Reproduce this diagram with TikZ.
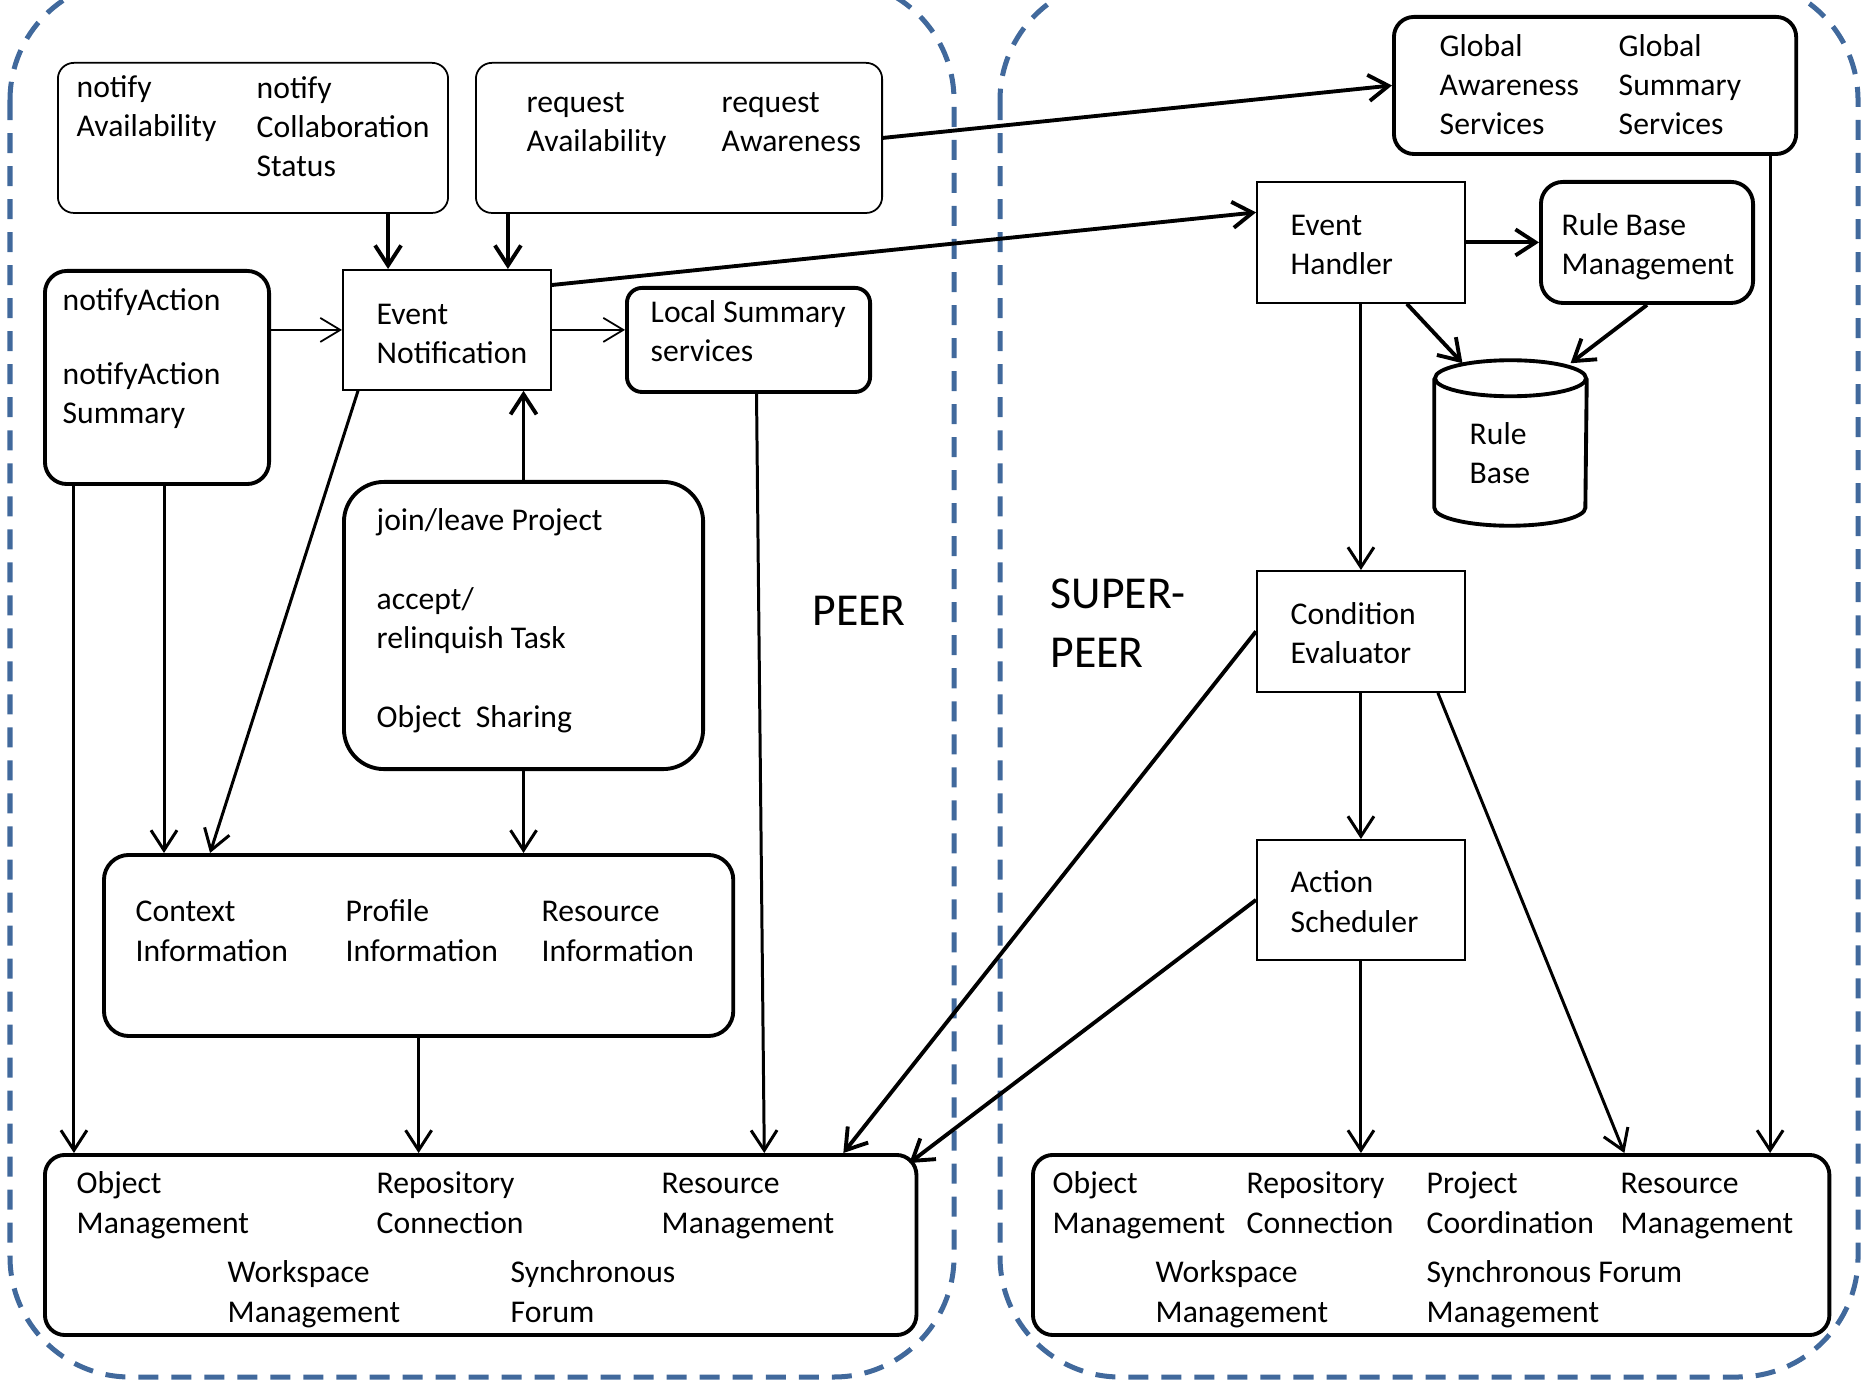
\documentclass[tikz,border=0pt]{standalone}
\usepackage{fontspec}
\setmainfont{Carlito}
\usetikzlibrary{arrows.meta}
\definecolor{borda}{HTML}{41699C}

\begin{document}
\begin{tikzpicture}[
    x=0.01cm, y=-0.01cm,
    zone/.style={draw=borda, line width=0.05cm, dash pattern=on 0.2cm off 0.13cm, rounded corners=1.2cm},
    modbox/.style={draw, line width=1.1pt, rounded corners=0.2cm, anchor=north west, inner sep=0pt},
    sqbox/.style={draw, line width=0.5pt, anchor=north west, inner sep=0pt},
    lbl/.style={anchor=base west, align=left, inner sep=0pt, font=\fontsize{9}{11.2}\selectfont},
    big/.style={lbl, font=\fontsize{13}{16.8}\selectfont},
    link/.style={-{Straight Barb[length=2mm, width=2.6mm]}, line width=1.1pt},
    midlink/.style={-{Straight Barb[length=2mm, width=2.6mm]}, line width=0.85pt},
    thinlink/.style={-{Straight Barb[length=2mm, width=2.4mm]}, line width=0.5pt}
  ]
    \useasboundingbox (0,0) rectangle (1864,1383);
    \draw[zone] (10,-20) rectangle (954,1377);
    \draw[zone] (1000,-20) rectangle (1858,1377);

    \node[modbox, line width=0.5pt, rounded corners=0.16cm, minimum width=3.90cm, minimum height=1.50cm] (na) at (57,62) {};
    \node[modbox, line width=0.5pt, rounded corners=0.16cm, minimum width=4.06cm, minimum height=1.50cm] (ra) at (475,62) {};
    \node[sqbox, minimum width=2.08cm, minimum height=1.20cm] (en) at (342,269) {};
    \node[modbox, rounded corners=0.22cm, minimum width=2.24cm, minimum height=2.13cm] (nac) at (43,269) {};
    \node[modbox, rounded corners=0.15cm, minimum width=2.43cm, minimum height=1.04cm] (ls) at (625,286) {};
    \node[modbox, rounded corners=0.4cm, minimum width=3.59cm, minimum height=2.87cm] (jl) at (342,480) {};
    \node[modbox, rounded corners=0.25cm, minimum width=6.29cm, minimum height=1.81cm] (inf) at (102,853) {};
    \node[modbox, minimum width=8.71cm, minimum height=1.80cm] (pb) at (43,1153) {};
    \node[modbox, minimum width=4.02cm, minimum height=1.37cm] (gl) at (1392,15) {};
    \node[sqbox, minimum width=2.08cm, minimum height=1.21cm] (eh) at (1256,181) {};
    \node[modbox, rounded corners=0.22cm, minimum width=2.12cm, minimum height=1.21cm] (rbm) at (1539,180) {};
    \node[minimum width=1.51cm, minimum height=1.64cm, inner sep=0pt] (rb) at (1510.5,443) {};
    \draw[line width=1.1pt] ([yshift=-0.18cm]rb.north) ellipse [x radius=0.755cm, y radius=0.18cm];
    \draw[line width=1.1pt] ([yshift=-0.18cm]rb.north west) -- ([yshift=0.18cm]rb.south west) arc[start angle=180, end angle=360, x radius=0.755cm, y radius=0.18cm] -- ([yshift=-0.18cm]rb.north east);
    \node[sqbox, minimum width=2.08cm, minimum height=1.21cm] (ce) at (1256,570) {};
    \node[sqbox, minimum width=2.08cm, minimum height=1.20cm] (as) at (1256,839) {};
    \node[modbox, minimum width=7.96cm, minimum height=1.80cm] (sb) at (1031,1153) {};

    \node[lbl] (na1) at (76,137) {notify\\Availability};
    \node[lbl] (na2) at (256,177) {notify\\Collaboration\\Status};
    \node[lbl] (ra1) at (526,152) {request\\Availability};
    \node[lbl] (ra2) at (721,152) {request\\Awareness};
    \node[lbl] (ent) at (376,364) {Event\\Notification};
    \node[lbl] (nact) at (62,424) {notifyAction\\[10pt]notifyAction\\Summary};
    \node[lbl] (lst) at (650,362) {Local Summary\\services};
    \node[lbl] (jlt) at (376,728) {join/leave Project\\[11.3pt]accept/\\relinquish Task\\[11.3pt]Object\ \ Sharing};
    \node[lbl] (inf1) at (135,961) {Context\\Information};
    \node[lbl] (inf2) at (345,961) {Profile\\Information};
    \node[lbl] (inf3) at (541,961) {Resource\\Information};
    \node[lbl] (pb1) at (76,1233) {Object\\Management};
    \node[lbl] (pb2) at (376,1233) {Repository\\Connection};
    \node[lbl] (pb3) at (661,1233) {Resource\\Management};
    \node[lbl] (pb4) at (227,1322) {Workspace\\Management};
    \node[lbl] (pb5) at (510,1322) {Synchronous\\Forum};
    \node[lbl] (gl1) at (1439,135) {Global\\Awareness\\Services};
    \node[lbl] (gl2) at (1618,135) {Global\\Summary\\Services};
    \node[lbl] (eht) at (1290,275) {Event\\Handler};
    \node[lbl] (rbmt) at (1561,275) {Rule Base\\Management};
    \node[lbl] (rbt) at (1469,484) {Rule\\Base};
    \node[lbl] (cet) at (1290,664) {Condition\\Evaluator};
    \node[lbl] (ast) at (1290,932) {Action\\Scheduler};
    \node[lbl] (sb1) at (1052,1233) {Object\\Management};
    \node[lbl] (sb2) at (1246,1233) {Repository\\Connection};
    \node[lbl] (sb3) at (1426,1233) {Project\\Coordination};
    \node[lbl] (sb4) at (1620,1233) {Resource\\Management};
    \node[lbl] (sb5) at (1155,1322) {Workspace\\Management};
    \node[lbl] (sb6) at (1426,1322) {Synchronous Forum\\Management};
    \node[big] (peer) at (812,626) {PEER};
    \node[big] (sp) at (1050,668) {SUPER-\\PEER};

    \draw[link] ([xshift=1.35cm]na.south) -- ([xshift=1.35cm]na.south |- en.north);
    \draw[link] ([xshift=-1.71cm]ra.south) -- ([xshift=-1.71cm]ra.south |- en.north);
    \draw[link] ([yshift=-0.16cm]en.north east) -- ([yshift=0.30cm]eh.west);
    \draw[link] (ra.east) -- (gl.west);
    \draw[thinlink] (nac.east |- en.west) -- (en.west);
    \draw[thinlink] (en.east) -- (en.east -| ls.west);
    \draw[link] (jl.north) -- (jl.north |- en.south);
    \draw[midlink] (jl.south) -- (jl.south |- inf.north);
    \draw[midlink] ([xshift=-0.83cm]nac.south) -- ([xshift=-0.83cm]nac.south |- pb.north);
    \draw[midlink] ([xshift=0.07cm]nac.south) -- ([xshift=0.07cm]nac.south |- inf.north);
    \draw[midlink] ([xshift=0.16cm]en.south west) -- ([xshift=1.08cm]inf.north west);
    \draw[midlink] ([xshift=0.08cm]ls.south) -- ([xshift=-1.54cm]pb.north east);
    \draw[midlink] (inf.south) -- (inf.south |- pb.north);
    \draw[link] (ce.west) -- ([xshift=-0.75cm]pb.north east);
    \draw[link] (as.west) -- ([xshift=-0.09cm, yshift=-0.10cm]pb.north east);
    \draw[midlink] (eh.south) -- (ce.north);
    \draw[link] (eh.east) -- (eh.east -| rbm.west);
    \draw[link] ([xshift=-0.59cm]eh.south east) -- ([xshift=-0.48cm, yshift=-0.03cm]rb.north);
    \draw[link] (rbm.south) -- ([xshift=0.6cm, yshift=-0.03cm]rb.north);
    \draw[midlink] ([xshift=-0.28cm]gl.south east) -- ([xshift=-0.28cm]gl.south east |- sb.north);
    \draw[midlink] (ce.south) -- (as.north);
    \draw[midlink] (as.south) -- (as.south |- sb.north);
    \draw[midlink] ([xshift=-0.28cm]ce.south east) -- ([xshift=5.93cm]sb.north west);
  \end{tikzpicture}
\end{document}
